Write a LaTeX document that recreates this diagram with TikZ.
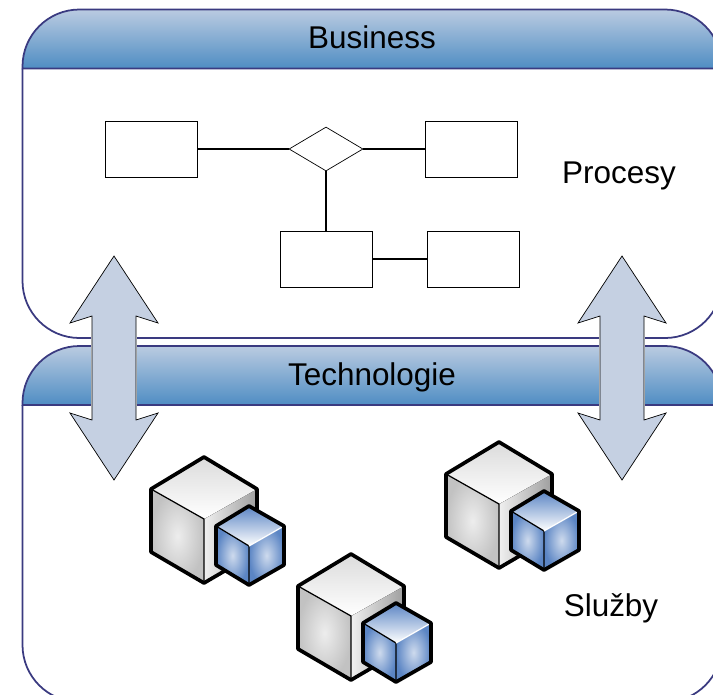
\documentclass[tikz,border=0pt]{standalone}
\usepackage{fontspec}
\setmainfont{Liberation Sans}
\usetikzlibrary{shapes.geometric}

\definecolor{panelline}{HTML}{3A3A80}
\definecolor{headtop}{HTML}{BACBE1}
\definecolor{headbot}{HTML}{4F8DC3}
\definecolor{arrowfill}{HTML}{C5D0E2}
\definecolor{cubeblue}{HTML}{5B85C4}

\tikzset{
  panel/.style={draw=panelline, line width=1pt, fill=white},
  panelhead/.style={draw=panelline, line width=1pt, top color=headtop, bottom color=headbot},
  title/.style={font=\fontsize{17.9}{20}\selectfont, text=black, inner sep=0pt, anchor=base},
  procbox/.style={draw, fill=white, line width=0.4pt, minimum width=1.84cm, minimum height=1.12cm, inner sep=0pt},
  procdiamond/.style={draw, fill=white, line width=0.4pt, diamond, aspect=1.68, minimum width=1.48cm, minimum height=0.88cm, inner sep=0pt},
  link/.style={line width=0.65pt},
  bigarrow/.style={draw=black, line width=0.4pt, fill=arrowfill},
  cubeline/.style={draw=black, line width=2.1pt, line join=round},
  cubeedge/.style={draw=black, line width=0.7pt},
  pics/server/.style={code={
      % Cubo grande
      \shade[inner color=black!7, outer color=black!24] (-53,32) -- (0,62) -- (0,126) -- (-53,95) -- cycle;
      \fill[left color=black!6, right color=black!38] (0,62) -- (53,32) -- (53,95) -- (0,126) -- cycle;
      \fill[bottom color=white, top color=black!14] (0,0) -- (53,32) -- (0,62) -- (-53,32) -- cycle;
      \draw[cubeedge] (-53,32) -- (0,62) -- (0,126);
      \draw[cubeline] (0,0) -- (53,32) -- (53,95) -- (0,126) -- (-53,95) -- (-53,32) -- cycle;
      % Cubo pequeno
      \fill[bottom color=white, top color=cubeblue] (45,49) -- (80,69) -- (45,89) -- (12,69) -- cycle;
      \shade[inner color=cubeblue!30, outer color=cubeblue] (12,69) -- (45,89) -- (45,128) -- (12,108) -- cycle;
      \shade[inner color=cubeblue!30, outer color=cubeblue] (45,89) -- (80,69) -- (80,108) -- (45,128) -- cycle;
      \draw[cubeedge] (12,69) -- (45,89) -- (45,128);
      \draw[white, line width=0.7pt] (45,89) -- (80,69);
      \draw[cubeline] (45,49) -- (80,69) -- (80,108) -- (45,128) -- (12,108) -- (12,69) -- cycle;
  }},
  pics/updown/.style={code={
      % Branco por baixo da haste
      \fill[white] (-23.2,60) rectangle (23.2,164);
      \draw[bigarrow] (0,0) -- (44,67) -- (22,60) -- (22,164) -- (44,157) -- (0,224)
        -- (-44,157) -- (-22,164) -- (-22,60) -- (-44,67) -- cycle;
  }},
}

\begin{document}
\begin{tikzpicture}[x=0.02cm, y=-0.02cm]
      \clip (0,0) rectangle (713,694);

      % Painel Business
      \draw[panel, rounded corners=1.14cm] (22.5,68.5) -- (22.5,338) -- (722,338) -- (722,68.5);
      \draw[panelhead] (22.5,68.5) [rounded corners=1.14cm] -- (22.5,9.5) -- (722,9.5) [sharp corners] -- (722,68.5) -- cycle;
      \node[title] (business) at (372,48) {Business};

      % Painel Technologie
      \draw[panel, rounded corners=1.14cm] (22.5,405) -- (22.5,702) -- (722,702) -- (722,405);
      \draw[panelhead] (22.5,405) [rounded corners=1.14cm] -- (22.5,346) -- (722,346) [sharp corners] -- (722,405) -- cycle;
      \node[title] (technologie) at (372,385) {Technologie};

      % Processo
      \node[procbox] (boxa) at (151,149) {};
      \node[procbox] (boxb) at (471,149) {};
      \node[procbox] (boxc) at (326,259) {};
      \node[procbox] (boxd) at (473,259) {};
      \node[procdiamond] (gate) at (326,149) {};
      \draw[link] (boxa) -- (gate);
      \draw[link] (gate) -- (boxb);
      \draw[link] (gate) -- (boxc);
      \draw[link] (boxc) -- (boxd);
      \node[title] (procesy) at (619,183) {Procesy};

      % Setas
      \pic at (114,256) {updown};
      \pic at (622,256) {updown};

      % Servidores
      \pic at (204,457) {server};
      \pic at (499,442) {server};
      \pic at (351,554) {server};
      \node[title] (sluzby) at (611,616) {Služby};
\end{tikzpicture}
\end{document}
